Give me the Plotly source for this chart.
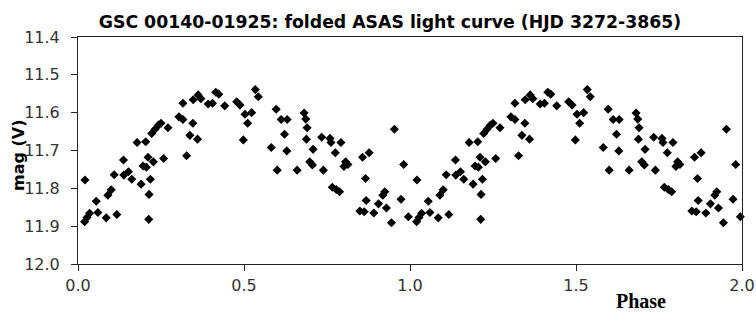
import plotly.graph_objects as go

title_text = "GSC 00140-01925: folded ASAS light curve (HJD 3272-3865)"

phase = [0.020, 0.021, 0.027, 0.035, 0.060, 0.055, 0.085, 0.090, 0.100, 0.109,
         0.117, 0.137, 0.138, 0.152, 0.162, 0.178, 0.190, 0.196, 0.204, 0.206,
         0.211, 0.213, 0.214, 0.218, 0.222, 0.227, 0.232, 0.242, 0.250, 0.258,
         0.271, 0.304, 0.316, 0.316, 0.327, 0.337, 0.346, 0.347, 0.360, 0.362,
         0.370, 0.392, 0.405, 0.415, 0.424, 0.442, 0.478, 0.488, 0.498, 0.503,
         0.511, 0.523, 0.534, 0.543, 0.582, 0.597, 0.600, 0.612, 0.622, 0.629,
         0.630, 0.660, 0.681, 0.686, 0.690, 0.688, 0.698, 0.706, 0.708, 0.734,
         0.739, 0.759, 0.762, 0.766, 0.775, 0.778, 0.788, 0.792, 0.801, 0.806,
         0.813, 0.849, 0.857, 0.862, 0.866, 0.868, 0.877, 0.891, 0.905, 0.918,
         0.924, 0.929, 0.944, 0.953, 0.973, 0.981, 0.995]

mag = [11.888, 11.778, 11.877, 11.866, 11.864, 11.834, 11.878, 11.818, 11.804, 11.764,
       11.869, 11.725, 11.765, 11.756, 11.776, 11.679, 11.789, 11.741, 11.677, 11.744,
       11.718, 11.882, 11.816, 11.776, 11.655, 11.730, 11.644, 11.633, 11.628, 11.721,
       11.640, 11.611, 11.618, 11.575, 11.714, 11.660, 11.628, 11.566, 11.670, 11.553,
       11.563, 11.577, 11.575, 11.546, 11.551, 11.582, 11.571, 11.580, 11.672, 11.604,
       11.628, 11.600, 11.539, 11.558, 11.692, 11.591, 11.752, 11.618, 11.657, 11.701,
       11.618, 11.752, 11.601, 11.617, 11.640, 11.670, 11.730, 11.738, 11.697, 11.665,
       11.752, 11.668, 11.679, 11.797, 11.706, 11.803, 11.809, 11.679, 11.742, 11.730,
       11.737, 11.860, 11.718, 11.862, 11.774, 11.832, 11.706, 11.865, 11.841, 11.818,
       11.809, 11.852, 11.891, 11.644, 11.829, 11.737, 11.875]

x_ticks = [0.0, 0.5, 1.0, 1.5, 2.0]
y_ticks = [11.4, 11.5, 11.6, 11.7, 11.8, 11.9, 12.0]

# folded: plot each cycle twice (phase and phase + 1)
xs = phase + [p + 1 for p in phase]
ys = mag + mag

W, H = 756, 313
L, R, T, B = 78, 14, 37, 49
pw, ph = W - L - R, H - T - B

fig = go.Figure()
fig.add_trace(go.Scatter(
    x=xs, y=ys, mode="markers",
    marker=dict(symbol="diamond", size=7, color="black", line=dict(width=0)),
    showlegend=False, cliponaxis=False, hoverinfo="skip",
))

tick_font = dict(family="DejaVu Sans, sans-serif", size=16, color="#333")

fig.update_layout(
    width=W, height=H,
    margin=dict(l=L, r=R, t=T, b=B),
    paper_bgcolor="white", plot_bgcolor="white",
    title=dict(text="<b>" + title_text + "</b>", x=390 / W, xanchor="center",
               xref="container", yref="container",
               y=1 - 22 / H, yanchor="middle",
               font=dict(family="DejaVu Sans, sans-serif", size=17.3, color="black")),
    xaxis=dict(range=[0, 2], tickvals=x_ticks, tickformat=".1f",
               showgrid=False, zeroline=False, automargin=False,
               showline=True, linecolor="#222", linewidth=1, mirror=True,
               ticks="outside", ticklen=6, tickcolor="#222",
               tickfont=tick_font, ticklabelstandoff=1),
    yaxis=dict(range=[12.0, 11.4], tickvals=y_ticks, tickformat=".1f",
               showgrid=False, zeroline=False, automargin=False,
               showline=True, linecolor="#222", linewidth=1, mirror=True,
               ticks="outside", ticklen=6, tickcolor="#222",
               tickfont=tick_font, ticklabelstandoff=8),
    annotations=[
        dict(text="<b>Phase</b>", xref="paper", yref="paper",
             x=(641 - L) / pw, y=-(301 - (H - B)) / ph,
             xanchor="center", yanchor="middle", showarrow=False,
             font=dict(family="Liberation Serif, Times New Roman, serif", size=20, color="black")),
        dict(text="<b>mag (V)</b>", xref="paper", yref="paper",
             x=-(L - 18) / pw, y=1 - (155 - T) / ph, textangle=-90,
             xanchor="center", yanchor="middle", showarrow=False,
             font=dict(family="DejaVu Sans, sans-serif", size=16, color="black")),
    ],
)

# remove the default page margin so the figure fills the window exactly
fig.write_html("out.html",
               config={"displayModeBar": False, "staticPlot": True},
               post_script="document.body.style.margin='0';document.body.style.overflow='hidden';")
